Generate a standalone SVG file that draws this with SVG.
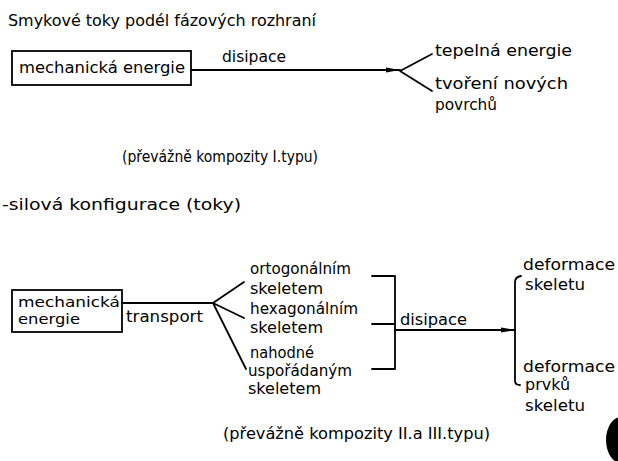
<svg xmlns="http://www.w3.org/2000/svg" width="618" height="461" viewBox="0 0 618 461">
<style>
text{font-family:"DejaVu Sans","Liberation Sans",sans-serif;font-size:16px;fill:#000}
.sm{font-size:14px}
.box{fill:#fff;stroke:#000;stroke-width:1.8}
.ln{fill:none;stroke:#000;stroke-width:1.8;stroke-linecap:round;stroke-linejoin:round}
</style>
<defs>
<marker id="dart" viewBox="0 0 14 6" refX="14" refY="3" markerWidth="14" markerHeight="6" markerUnits="userSpaceOnUse" orient="auto">
<path d="M0,0.5 L14,3 L0,5.5 z" fill="#000"/>
</marker>
</defs>
<rect width="618" height="461" fill="#fff"/>

<g id="title1"><text x="8" y="26" textLength="308" lengthAdjust="spacingAndGlyphs">Smykové toky podél fázových rozhraní</text></g>

<g id="node-mech1">
<rect class="box" x="12" y="51" width="179" height="34"/>
<text x="19" y="73" textLength="166" lengthAdjust="spacingAndGlyphs">mechanická energie</text>
</g>
<g id="node-teplo"><text x="435" y="56" textLength="137" lengthAdjust="spacingAndGlyphs">tepelná energie</text></g>
<g id="node-povrch">
<text x="435" y="89" textLength="133" lengthAdjust="spacingAndGlyphs">tvoření nových</text>
<text x="435" y="110" textLength="62" lengthAdjust="spacingAndGlyphs">povrchů</text>
</g>
<g id="note1"><text x="122" y="162" textLength="196" lengthAdjust="spacingAndGlyphs">(převážně kompozity I.typu)</text></g>

<g id="title2"><text x="2" y="210" textLength="239" lengthAdjust="spacingAndGlyphs">-silová konfigurace  (toky)</text></g>

<g id="node-mech2">
<rect class="box" x="12" y="290" width="110" height="42"/>
<text class="sm" x="18" y="307" textLength="102" lengthAdjust="spacingAndGlyphs">mechanická</text>
<text class="sm" x="18" y="324" textLength="62" lengthAdjust="spacingAndGlyphs">energie</text>
</g>
<g id="node-orto">
<text x="250" y="274" textLength="101" lengthAdjust="spacingAndGlyphs">ortogonálním</text>
<text x="250" y="294" textLength="73" lengthAdjust="spacingAndGlyphs">skeletem</text>
</g>
<g id="node-hexa">
<text x="250" y="314" textLength="108" lengthAdjust="spacingAndGlyphs">hexagonálním</text>
<text x="250" y="333" textLength="73" lengthAdjust="spacingAndGlyphs">skeletem</text>
</g>
<g id="node-nahod">
<text x="250" y="358" textLength="64" lengthAdjust="spacingAndGlyphs">nahodné</text>
<text x="248" y="376" textLength="104" lengthAdjust="spacingAndGlyphs">uspořádaným</text>
<text x="248" y="394" textLength="73" lengthAdjust="spacingAndGlyphs">skeletem</text>
</g>
<g id="node-defskel">
<text x="523" y="270" textLength="92" lengthAdjust="spacingAndGlyphs">deformace</text>
<text x="525" y="290" textLength="60" lengthAdjust="spacingAndGlyphs">skeletu</text>
</g>
<g id="node-defprvk">
<text x="523" y="372" textLength="92" lengthAdjust="spacingAndGlyphs">deformace</text>
<text x="525" y="390" textLength="45" lengthAdjust="spacingAndGlyphs">prvků</text>
<text x="525" y="411" textLength="60" lengthAdjust="spacingAndGlyphs">skeletu</text>
</g>
<g id="note2"><text x="223" y="439" textLength="267" lengthAdjust="spacingAndGlyphs">(převážně kompozity II.a III.typu)</text></g>

<g id="connectors">
<path class="ln" d="M191,70 L400,70" marker-end="url(#dart)"/>
<path class="ln" d="M432,54 L400,71 L432,91"/>
<text x="222" y="62" textLength="64" lengthAdjust="spacingAndGlyphs">disipace</text>

<path class="ln" d="M122,303 L213,303"/>
<text x="126" y="322" textLength="77" lengthAdjust="spacingAndGlyphs">transport</text>
<path class="ln" d="M244,282 L213,303 L244,318 M213,303 L246,369"/>

<path class="ln" d="M372,276 L395,276 L395,369 L372,369 M372,324 L395,324"/>
<path class="ln" d="M395,330 L515,330" marker-end="url(#dart)"/>
<text x="400" y="325" textLength="67" lengthAdjust="spacingAndGlyphs">disipace</text>
<path class="ln" d="M521,276 Q515,277 515,282 L515,381 Q515,385 520,385"/>
</g>

<ellipse cx="621" cy="440" rx="15" ry="23" fill="#000"/>
</svg>
